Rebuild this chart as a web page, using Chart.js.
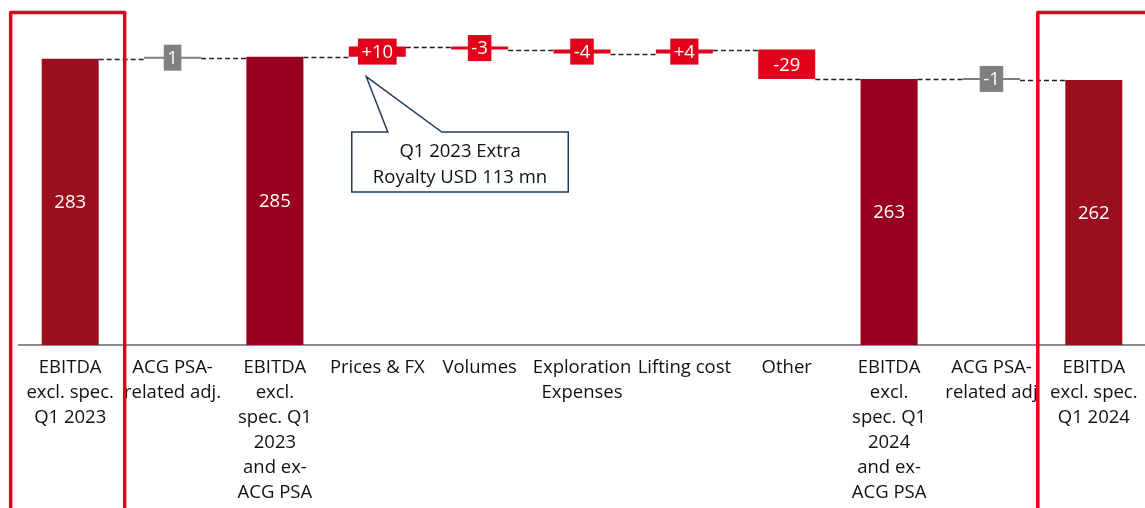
<!DOCTYPE html>
<html>
<head>
<meta charset="utf-8">
<script src="https://cdn.jsdelivr.net/npm/chart.js@4.4.1/dist/chart.umd.min.js"></script>
<style>
  html, body { margin: 0; padding: 0; background: #fff; }
  #wrap { width: 1145px; height: 508px; }
</style>
</head>
<body>
<div id="wrap"><canvas id="c" width="1145" height="508"></canvas></div>
<script>
// EBITDA bridge, Q1 2023 -> Q1 2024 (USD mn)
const categories = [
  ['EBITDA', 'excl. spec.', 'Q1 2023'],
  ['ACG PSA-', 'related adj.'],
  ['EBITDA', 'excl.', 'spec. Q1', '2023', 'and ex-', 'ACG PSA'],
  'Prices & FX',
  'Volumes',
  ['Exploration', 'Expenses'],
  'Lifting cost',
  'Other',
  ['EBITDA', 'excl.', 'spec. Q1', '2024', 'and ex-', 'ACG PSA'],
  ['ACG PSA-', 'related adj'],
  ['EBITDA', 'excl. spec.', 'Q1 2024']
];
const kinds   = ['total', 'adjustment', 'total', 'change', 'change', 'change', 'change', 'change', 'total', 'adjustment', 'total'];
const totals  = [283, null, 285, null, null, null, null, null, 263, null, 262];
const changes = [null, 1, null, 10, -3, -4, 4, -29, null, -1, null];
const calloutLines = ['Q1 2023 Extra', 'Royalty USD 113 mn'];
const calloutCategory = 3;

const FONT = '"Open Sans", sans-serif';

// Floating [start, end] ranges for the waterfall
const ranges = [];
let level = 0;
categories.forEach((_, i) => {
  if (totals[i] !== null) {
    ranges.push([0, totals[i]]);
    level = totals[i];
  } else {
    ranges.push([level, level + changes[i]]);
    level += changes[i];
  }
});

const colors = kinds.map((k, i) => {
  if (k === 'adjustment') return '#808080';
  if (k === 'change') return '#e2001a';
  return (i === 0 || i === kinds.length - 1) ? '#9a0e20' : '#990020';
});

function valueText(i) {
  if (totals[i] !== null) return String(totals[i]);
  const v = changes[i];
  if (kinds[i] === 'adjustment') return String(v);
  return (v > 0 ? '+' : '') + v;
}

// Dashed connectors between consecutive bars
const connectors = {
  id: 'connectors',
  afterDatasetsDraw(chart) {
    const meta = chart.getDatasetMeta(0);
    const y = chart.scales.y;
    const c = chart.ctx;
    c.save();
    c.strokeStyle = '#222';
    c.lineWidth = 1.4;
    c.setLineDash([5, 3]);
    for (let i = 0; i < meta.data.length - 1; i++) {
      const a = meta.data[i], b = meta.data[i + 1];
      const py = Math.round(y.getPixelForValue(ranges[i][1])) + 0.5;
      c.beginPath();
      c.moveTo(a.x + a.width / 2, py);
      c.lineTo(b.x - b.width / 2, py);
      c.stroke();
    }
    c.restore();
  }
};

// Value labels: white text inside totals, tagged boxes on changes
const valueLabels = {
  id: 'valueLabels',
  afterDatasetsDraw(chart) {
    const meta = chart.getDatasetMeta(0);
    const c = chart.ctx;
    c.save();
    c.font = '18.5px ' + FONT;
    c.textAlign = 'center';
    c.textBaseline = 'middle';
    meta.data.forEach((bar, i) => {
      const cy = (bar.y + bar.base) / 2;
      const txt = valueText(i);
      if (kinds[i] !== 'total') {
        const w = c.measureText(txt).width + 7, h = 26;
        c.fillStyle = colors[i];
        c.fillRect(bar.x - w / 2, cy - h / 2, w, h);
      }
      c.fillStyle = '#fff';
      c.fillText(txt, bar.x, cy + 1);
    });
    c.restore();
  }
};

// Highlight frames around start/end columns and the royalty callout
const overlays = {
  id: 'overlays',
  afterDraw(chart) {
    const meta = chart.getDatasetMeta(0);
    const c = chart.ctx;
    const first = meta.data[0], last = meta.data[meta.data.length - 1];
    c.save();
    c.strokeStyle = '#e2001a';
    c.lineWidth = 3.5;
    c.lineJoin = 'round';
    c.strokeRect(first.x - 59.5, 12.5, 114, 520);
    c.strokeRect(last.x - 56, 12.5, 200, 520);

    const bar = meta.data[calloutCategory];
    const tipX = bar.x - 11, tipY = bar.base + 20;
    const x0 = bar.x - 25.5, x1 = bar.x + 191, y0 = 132, y1 = 192;
    c.beginPath();
    c.moveTo(x0, y0);
    c.lineTo(bar.x + 10.5, y0);
    c.lineTo(tipX, tipY);
    c.lineTo(bar.x + 64.5, y0);
    c.lineTo(x1, y0);
    c.lineTo(x1, y1);
    c.lineTo(x0, y1);
    c.closePath();
    c.fillStyle = '#fff';
    c.fill();
    c.strokeStyle = '#1f3b5c';
    c.lineWidth = 1.5;
    c.lineJoin = 'miter';
    c.stroke();
    c.fillStyle = '#111';
    c.font = '18.5px ' + FONT;
    c.textAlign = 'center';
    c.textBaseline = 'middle';
    const cx = (x0 + x1) / 2;
    calloutLines.forEach((t, k) => c.fillText(t, cx, 152 + k * 26));
    c.restore();
  }
};

new Chart(document.getElementById('c'), {
  type: 'bar',
  data: {
    labels: categories,
    datasets: [{
      data: ranges,
      backgroundColor: colors,
      borderWidth: 0,
      barPercentage: 0.557,
      categoryPercentage: 1,
      minBarLength: 2
    }]
  },
  options: {
    responsive: false,
    animation: false,
    devicePixelRatio: 1,
    layout: { padding: { left: 19, right: 0, top: 0, bottom: 0 } },
    plugins: { legend: { display: false }, tooltip: { enabled: false } },
    scales: {
      x: {
        grid: { display: false, drawTicks: false },
        border: { display: true, color: '#8c8c8c', width: 2 },
        ticks: {
          color: '#111',
          font: { family: FONT, size: 18.5, lineHeight: 25 / 18.5 },
          padding: 10,
          maxRotation: 0,
          autoSkip: false
        },
        afterFit(scale) {
          scale.height = 163;
          scale.paddingLeft = 0;
          scale.paddingRight = 0;
        }
      },
      y: { display: false, min: 0, max: 341 }
    }
  },
  plugins: [connectors, valueLabels, overlays]
});
</script>
</body>
</html>
